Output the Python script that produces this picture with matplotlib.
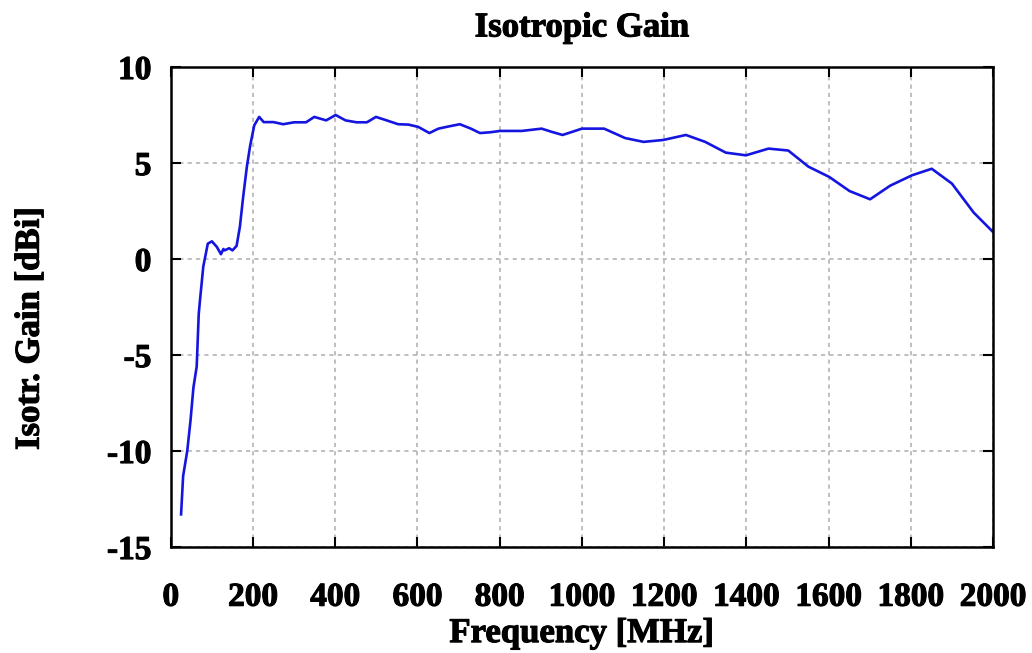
import numpy as np
import matplotlib.pyplot as plt
import matplotlib.patheffects as pe

# --- dados ---
freq_mhz = [25, 30, 40, 48, 55, 63, 68, 71, 79, 90, 100, 112, 122, 128, 131, 142, 150,
            160, 168, 176, 185, 193, 203, 215, 226, 250, 273, 300, 329, 349, 378, 401,
            425, 452, 477, 499, 525, 553, 578, 602, 629, 651, 675, 703, 730, 752, 777,
            801, 854, 902, 927, 953, 976, 1000, 1054, 1105, 1150, 1198, 1253, 1300,
            1350, 1399, 1454, 1502, 1551, 1602, 1651, 1701, 1750, 1803, 1851, 1900,
            1953, 2000]
gain_dbi = [-13.3, -11.3, -10.0, -8.4, -6.7, -5.6, -2.85, -2.15, -0.4, 0.8, 0.92, 0.63,
            0.25, 0.52, 0.45, 0.56, 0.45, 0.68, 1.67, 3.23, 4.8, 5.9, 6.96, 7.4, 7.13,
            7.13, 7.02, 7.12, 7.12, 7.4, 7.22, 7.5, 7.22, 7.12, 7.12, 7.4, 7.22, 7.02,
            7.0, 6.88, 6.56, 6.79, 6.9, 7.02, 6.79, 6.56, 6.6, 6.67, 6.67, 6.79, 6.62,
            6.46, 6.62, 6.79, 6.79, 6.3, 6.1, 6.2, 6.46, 6.1, 5.54, 5.4, 5.75, 5.65,
            4.81, 4.27, 3.54, 3.11, 3.82, 4.36, 4.7, 3.93, 2.42, 1.41]

x_ticks = list(range(0, 2001, 200))
y_ticks = [-15, -10, -5, 0, 5, 10]

plt.rcParams['font.family'] = ['Liberation Serif', 'DejaVu Serif']
plt.rcParams['font.weight'] = 'bold'
plt.rcParams['axes.unicode_minus'] = False

# traço extra para deixar o texto mais "pesado", como no original
heavy = [pe.withStroke(linewidth=0.8, foreground='black')]

fig = plt.figure(figsize=(10.32, 6.53), dpi=100)
ax = fig.add_axes([0.1655, 0.1623, 0.7967, 0.7351])

ax.plot(freq_mhz, gain_dbi, color='#1515e0', lw=1.9)

ax.set_xlim(0, 2000)
ax.set_ylim(-15, 10)
ax.set_xticks(x_ticks)
ax.set_yticks(y_ticks)
ax.grid(True, color='#b4b4b4', linestyle=(0, (2.5, 2.5)), lw=1.2)

for s in ax.spines.values():
    s.set_linewidth(1.8)
ax.tick_params(direction='in', length=7, width=1.5, top=True, right=True,
               labelsize=24)
ax.tick_params(axis='x', pad=25)
ax.tick_params(axis='y', pad=14)
for lbl in ax.get_xticklabels() + ax.get_yticklabels():
    lbl.set_fontweight('bold')
    lbl.set_path_effects(heavy)

t = ax.set_title("Isotropic Gain", fontsize=25, fontweight='bold', pad=22)
xl = ax.set_xlabel("Frequency [MHz]", fontsize=25, fontweight='bold')
yl = ax.set_ylabel("Isotr. Gain [dBi]", fontsize=25, fontweight='bold')
ax.xaxis.set_label_coords(0.5, -0.146)
ax.yaxis.set_label_coords(-0.151, 0.455)
for txt in (t, xl, yl):
    txt.set_path_effects(heavy)

fig.savefig("out.png", dpi=100)
